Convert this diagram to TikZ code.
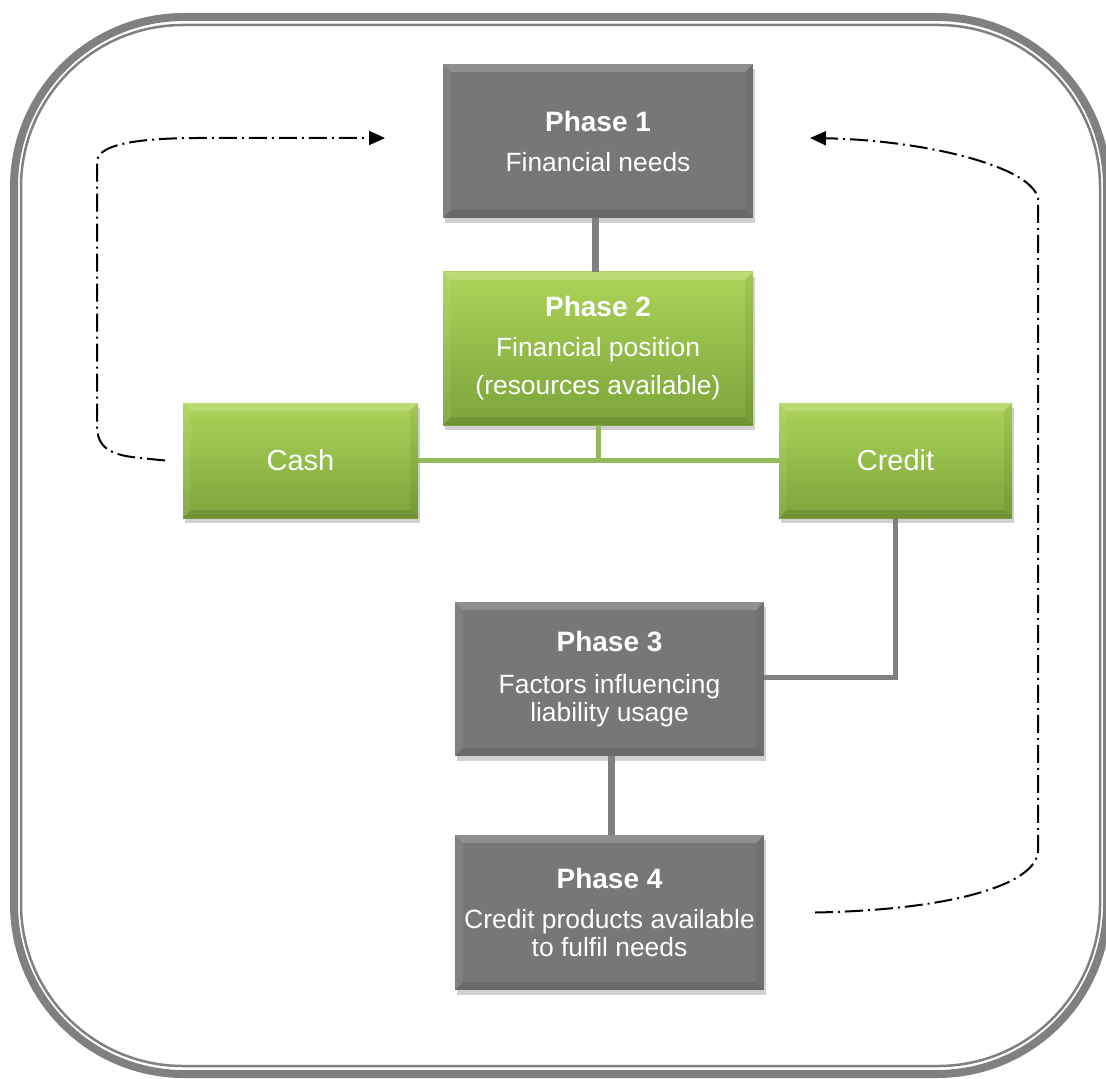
\documentclass[tikz,border=0pt]{standalone}
\usepackage{fontspec}
\setmainfont{Liberation Sans}
\usetikzlibrary{arrows.meta}
\definecolor{framegray}{RGB}{128,128,128}
\definecolor{boxgray}{RGB}{119,119,119}
\definecolor{greentop}{RGB}{172,212,88}
\definecolor{greenbot}{RGB}{124,164,58}
\definecolor{linkgreen}{RGB}{148,184,92}
\definecolor{linkgray}{RGB}{128,128,128}
\tikzset{
  bevel/.style={path picture={
    \fill[white,opacity=0.18] (path picture bounding box.north west) -- (path picture bounding box.north east)
      -- ([shift={(-4pt,-4pt)}]path picture bounding box.north east) -- ([shift={(4pt,-4pt)}]path picture bounding box.north west) -- cycle;
    \fill[black,opacity=0.10] (path picture bounding box.south west) -- (path picture bounding box.south east)
      -- ([shift={(-4pt,4pt)}]path picture bounding box.south east) -- ([shift={(4pt,4pt)}]path picture bounding box.south west) -- cycle;
    \fill[white,opacity=0.07] (path picture bounding box.north west) -- ([shift={(4pt,-4pt)}]path picture bounding box.north west)
      -- ([shift={(4pt,4pt)}]path picture bounding box.south west) -- (path picture bounding box.south west) -- cycle;
    \fill[black,opacity=0.06] (path picture bounding box.north east) -- ([shift={(-4pt,-4pt)}]path picture bounding box.north east)
      -- ([shift={(-4pt,4pt)}]path picture bounding box.south east) -- (path picture bounding box.south east) -- cycle;
  }},
  shadowed/.style={preaction={fill=black,opacity=0.18,transform canvas={shift={(1pt,-2.5pt)}}}},
  phase/.style={draw=none, inner sep=0pt, outer sep=0pt, text=white, align=center,
    font=\fontsize{13.2}{14}\selectfont, shadowed, bevel},
  graybox/.style={phase, fill=boxgray, minimum width=155pt, minimum height=77pt},
  greenbox/.style={phase, top color=greentop, bottom color=greenbot},
  graylink/.style={draw=linkgray, line width=3.5pt},
  thinlink/.style={draw=linkgray, line width=2.5pt},
  greenlink/.style={draw=linkgreen, line width=2.5pt},
  loop/.style={draw=black, line width=1pt, dash pattern=on 9pt off 2.5pt on 1pt off 2.5pt,
    -{Triangle[length=8pt,width=7pt]}}
}
\newcommand{\ttl}[1]{{\fontsize{14}{14}\selectfont\bfseries #1}}
\begin{document}
\begin{tikzpicture}[x=0.5pt,y=-0.5pt]
\useasboundingbox (0,0) rectangle (1106,1079);
\fill[white] (0,0) rectangle (1106,1079);
% frame
\draw[framegray, line width=4pt, rounded corners=85pt] (14,17) rectangle (1107,1074);
\draw[framegray, line width=1.25pt, rounded corners=81pt] (21,25) rectangle (1100,1066);

% nodes
\node[graybox] (p1) at (598,141) {\ttl{Phase 1}\\[6pt]Financial needs};
\node[greenbox, minimum width=155pt, minimum height=76.5pt] (p2) at (598,348.5)
  {\ttl{Phase 2}\\[6pt]Financial position\\[5pt](resources available)};
\node[greenbox, minimum width=117.5pt, minimum height=57.5pt, font=\fontsize{14.5}{15}\selectfont] (cash) at (300.5,460.5) {Cash};
\node[greenbox, minimum width=116.5pt, minimum height=57.5pt, font=\fontsize{14.5}{15}\selectfont] (credit) at (895.5,460.5) {Credit};
\node[graybox, minimum width=154.5pt] (p3) at (609.5,679) {\ttl{Phase 3}\\[7pt]Factors influencing\\liability usage};
\node[graybox, minimum width=154.5pt, minimum height=77.5pt] (p4) at (609.5,912.5) {\ttl{Phase 4}\\[6pt]Credit products available\\to fulfil needs};

% connectors
\draw[graylink] ([xshift=-1.5pt]p1.south) -- ([xshift=-1.5pt]p1.south |- p2.north);
\draw[greenlink] (cash.east) -- (credit.west);
\draw[greenlink] (p2.south) -- (p2.south |- cash.east);
\draw[thinlink] (credit.south) |- ([yshift=1pt]p3.east);
\draw[graylink] ([xshift=0.75pt]p3.south) -- ([xshift=0.75pt]p3.south |- p4.north);

% feedback loops
\coordinate (lstart) at ([xshift=-9pt]cash.west);
\coordinate (ltip) at ([xshift=-29pt,yshift=1.5pt]p1.west);
\draw[loop] (lstart) -- (140,458) .. controls (110,455) and (97,448) .. (97,425)
  -- (97,162) .. controls (97,146) and (130,138) .. (200,138) -- (ltip);
\coordinate (rstart) at ([xshift=25.5pt]p4.east);
\coordinate (rtip) at ([xshift=28.5pt,yshift=1.5pt]p1.east);
\draw[loop] (rstart) .. controls (950,910) and (1038,885) .. (1038,850)
  -- (1038,198) .. controls (1030,165) and (920,140) .. (rtip);
\end{tikzpicture}
\end{document}
